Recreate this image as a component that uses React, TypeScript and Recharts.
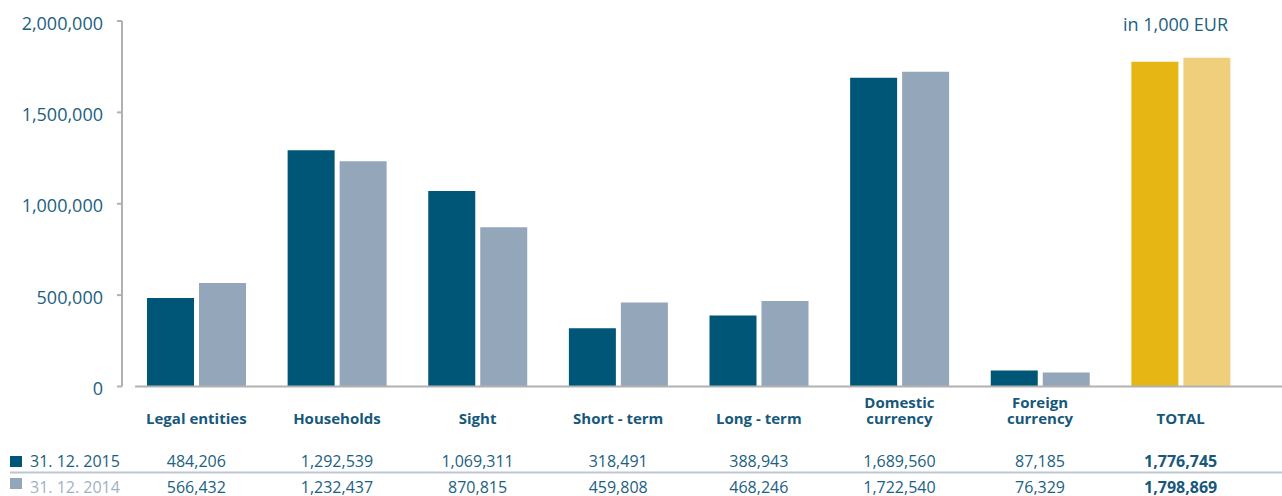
import { BarChart, Bar, XAxis, YAxis, Cell, Customized } from "recharts";

document.body.style.margin = "0";

const FONT = "'Open Sans', 'Noto Sans', sans-serif";
const TEXT = "#1b6181";
const TEXT_BOLD = "#17587a";
const AXIS = "#b1b1b1";

const C_2015 = "#005677";
const C_2014 = "#94a6ba";
const C_TOTAL_2015 = "#e5b614";
const C_TOTAL_2014 = "#efcf7b";

const categories = [
  ["Legal entities"],
  ["Households"],
  ["Sight"],
  ["Short - term"],
  ["Long - term"],
  ["Domestic", "currency"],
  ["Foreign", "currency"],
  ["TOTAL"],
];
const values2015 = [484206, 1292539, 1069311, 318491, 388943, 1689560, 87185, 1776745];
const values2014 = [566432, 1232437, 870815, 459808, 468246, 1722540, 76329, 1798869];
const yTicks = [0, 500000, 1000000, 1500000, 2000000];
const seriesLabels = ["31. 12. 2015", "31. 12. 2014"];

const data = categories.map((lines, i) => ({
  name: lines.join(" "),
  v2015: values2015[i],
  v2014: values2014[i],
}));

const fmt = (v: number) => v.toLocaleString("en-US");

const YTick = ({ y, payload }: any) => (
  <text x={103} y={y + 8.5} textAnchor="end" fill={TEXT} fontSize={18} fontFamily={FONT}>
    {fmt(payload.value)}
  </text>
);

const XTick = ({ x, payload }: any) => {
  const i = payload.index;
  const lines = categories[i];
  const isTotal = i === categories.length - 1;
  return (
    <g>
      {lines.map((line, k) => (
        <text
          key={k}
          x={x}
          y={424 - (lines.length - 1 - k) * 16}
          textAnchor="middle"
          fill={TEXT_BOLD}
          fontSize={15}
          fontWeight={700}
          fontFamily={FONT}
        >
          {line}
        </text>
      ))}
      <text
        x={x}
        y={467}
        textAnchor="middle"
        fill={isTotal ? TEXT_BOLD : TEXT}
        fontSize={16}
        fontWeight={isTotal ? 700 : 400}
        fontFamily={FONT}
      >
        {fmt(values2015[i])}
      </text>
      <text
        x={x}
        y={492.5}
        textAnchor="middle"
        fill={isTotal ? TEXT_BOLD : TEXT}
        fontSize={16}
        fontWeight={isTotal ? 700 : 400}
        fontFamily={FONT}
      >
        {fmt(values2014[i])}
      </text>
    </g>
  );
};

const Extras = () => (
  <g>
    <text x={1123} y={31} fill={TEXT} fontSize={18} fontFamily={FONT}>
      in 1,000 EUR
    </text>
    <line x1={10} x2={1282} y1={472.5} y2={472.5} stroke="#bcc7d1" strokeWidth={2} />
    <rect x={10} y={456} width={12} height={11} fill={C_2015} />
    <text x={30} y={467} fill={TEXT} fontSize={16} fontFamily={FONT}>
      {seriesLabels[0]}
    </text>
    <rect x={10} y={478} width={12} height={11} fill={C_2014} />
    <text x={30} y={492.5} fill="#9fb1c3" fontSize={16} fontFamily={FONT}>
      {seriesLabels[1]}
    </text>
  </g>
);

export default function App() {
  return (
    <div style={{ width: 1282, height: 496, background: "#fff" }}>
      <BarChart
        width={1282}
        height={496}
        data={data}
        margin={{ top: 21, right: 0, left: 0, bottom: 0 }}
        barSize={47}
        barGap={5}
      >
        <YAxis
          width={122}
          domain={[0, 2000000]}
          ticks={yTicks}
          interval={0}
          axisLine={{ stroke: AXIS, strokeWidth: 2 }}
          tickLine={{ stroke: AXIS, strokeWidth: 2 }}
          tickSize={5}
          tick={<YTick />}
        />
        <XAxis
          dataKey="name"
          height={109.5}
          interval={0}
          padding={{ left: 4, right: 31 }}
          axisLine={{ stroke: AXIS, strokeWidth: 2, strokeDasharray: "0 13 3000" }}
          tickLine={false}
          tick={<XTick />}
        />
        <Bar dataKey="v2015" isAnimationActive={false}>
          {data.map((_, i) => (
            <Cell key={i} fill={i === data.length - 1 ? C_TOTAL_2015 : C_2015} />
          ))}
        </Bar>
        <Bar dataKey="v2014" isAnimationActive={false}>
          {data.map((_, i) => (
            <Cell key={i} fill={i === data.length - 1 ? C_TOTAL_2014 : C_2014} />
          ))}
        </Bar>
        <Customized component={<Extras />} />
      </BarChart>
    </div>
  );
}
